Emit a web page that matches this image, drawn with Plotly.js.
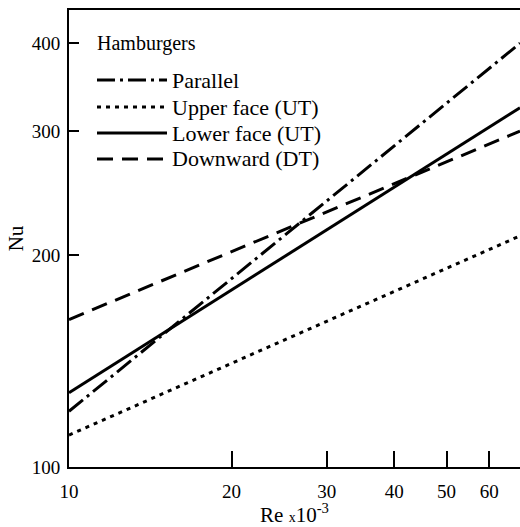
<!DOCTYPE html>
<html>
<head>
<meta charset="utf-8">
<script src="https://cdn.plot.ly/plotly-3.0.1.min.js"></script>
<style>html,body{margin:0;padding:0;background:#fff;}#chart{width:520px;height:527px;}</style>
</head>
<body>
<div id="chart"></div>
<script>
// Data (log-log straight lines)
const reX = [10, 68.4];
const parallelNu = [120, 400];
const upperFaceNu = [111, 213];
const lowerFaceNu = [127.5, 324];
const downwardNu = [162, 300];
const seriesNames = ['Parallel', 'Upper face (UT)', 'Lower face (UT)', 'Downward (DT)'];
const legendTitle = 'Hamburgers';
const xTickVals = [10, 20, 30, 40, 50, 60];
const yTickVals = [100, 200, 300, 400];

const FONT = '"Liberation Serif", "Times New Roman", serif';
const dashes = ['18px,5px,3px,5px', '4px,5px', 'solid', '16px,9px'];
const series = [parallelNu, upperFaceNu, lowerFaceNu, downwardNu];

const traces = series.map((ys, i) => ({
  x: reX, y: ys, type: 'scatter', mode: 'lines', name: seriesNames[i],
  line: {color: '#000', width: 3, dash: dashes[i]}, showlegend: false
}));

// Manual legend (long sample lines as in the reference)
const L = 69, R = 520, T = 10, B = 467;
const px = v => (v - L) / (R - L);
const py = v => (B - v) / (B - T);
const rowY = [80, 107, 133, 159];
const shapes = rowY.map((yy, i) => ({
  type: 'line', xref: 'paper', yref: 'paper',
  x0: px(97), x1: px(167), y0: py(yy), y1: py(yy),
  line: {color: '#000', width: 3, dash: dashes[i]}
}));
const annotations = [{
  xref: 'paper', yref: 'paper', x: px(95), y: py(43), xanchor: 'left', yanchor: 'middle',
  text: legendTitle, showarrow: false, font: {family: FONT, size: 20, color: '#000'}
}].concat(rowY.map((yy, i) => ({
  xref: 'paper', yref: 'paper', x: px(170), y: py(yy), xanchor: 'left', yanchor: 'middle',
  text: seriesNames[i], showarrow: false, font: {family: FONT, size: 22, color: '#000'}
})));

const layout = {
  width: 520, height: 527,
  margin: {l: 69, r: 0, t: 10, b: 60},
  paper_bgcolor: '#fff', plot_bgcolor: '#fff',
  showlegend: false,
  font: {family: FONT, color: '#000', size: 18},
  xaxis: {
    type: 'log', range: [Math.log10(10), Math.log10(68.4)],
    tickvals: xTickVals, ticktext: xTickVals.map(String),
    ticks: 'inside', ticklen: 16, tickwidth: 2, tickcolor: '#000',
    ticklabelstandoff: 6,
    showline: true, linewidth: 2, linecolor: '#000', mirror: true,
    showgrid: false, zeroline: false,
    tickfont: {family: FONT, size: 19, color: '#000'},
    title: {text: 'Re <span style="font-size:14px">x</span>10<sup>-3</sup>', font: {family: FONT, size: 21, color: '#000'}, standoff: 10}
  },
  yaxis: {
    type: 'log', range: [2, Math.log10(446)],
    tickvals: yTickVals, ticktext: yTickVals.map(String),
    ticks: 'inside', ticklen: 10, tickwidth: 2, tickcolor: '#000',
    ticklabelstandoff: 3,
    showline: true, linewidth: 2, linecolor: '#000', mirror: false,
    showgrid: false, zeroline: false,
    tickfont: {family: FONT, size: 19, color: '#000'},
    title: {text: 'Nu', font: {family: FONT, size: 21, color: '#000'}, standoff: 2}
  },
  shapes: shapes,
  annotations: annotations
};

Plotly.newPlot('chart', traces, layout, {displayModeBar: false, staticPlot: true});
</script>
</body>
</html>
